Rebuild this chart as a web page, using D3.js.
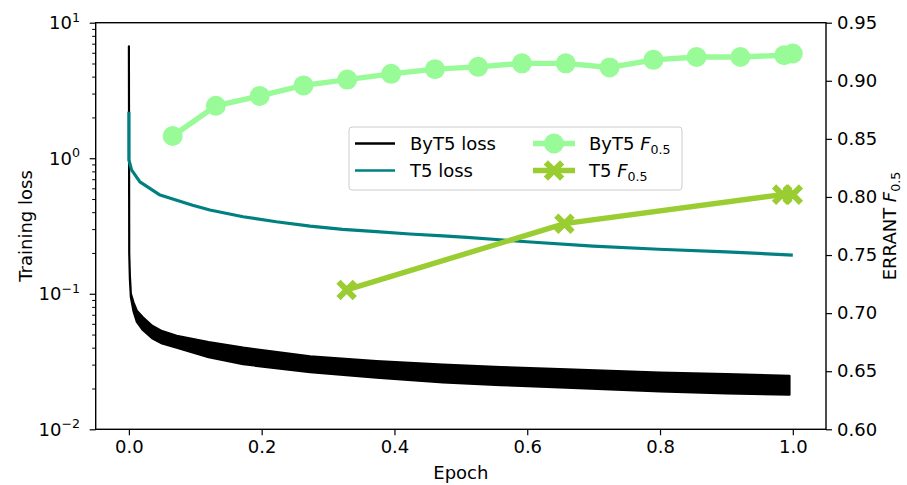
<!DOCTYPE html>
<html>
<head>
<meta charset="utf-8">
<script src="https://cdn.jsdelivr.net/npm/d3@7"></script>
<style>
body{margin:0;background:#fff;}
svg{font-family:"DejaVu Sans",sans-serif;}
</style>
</head>
<body>
<svg id="svg" width="907" height="485"></svg>
<script>
// ByT5 training loss, read as a noisy band (low / high edge)
var bytLossEpoch=[0,0.0005,0.0015,0.003,0.007,0.012,0.021,0.035,0.05,0.072,0.12,0.172,0.273,0.373,0.473,0.56,0.649,0.80,0.90,0.995];
var bytLossHi=[6.7,0.2,0.135,0.1,0.086,0.075,0.067,0.058,0.053,0.049,0.044,0.040,0.0345,0.0318,0.030,0.0288,0.0278,0.0262,0.0255,0.0248];
var bytLossLo=[6.7,0.2,0.128,0.094,0.074,0.062,0.054,0.047,0.043,0.040,0.034,0.0302,0.0264,0.024,0.0222,0.0212,0.0204,0.019,0.0184,0.018];

// T5 training loss
var t5LossEpoch=[0,0,0.004,0.0166,0.047,0.072,0.096,0.122,0.172,0.222,0.273,0.322,0.373,0.423,0.473,0.509,0.599,0.699,0.798,0.900,1.0];
var t5Loss=[2.2,0.97,0.82,0.67,0.535,0.49,0.45,0.415,0.37,0.34,0.316,0.299,0.287,0.276,0.267,0.261,0.242,0.225,0.213,0.204,0.193];

// ERRANT F0.5 checkpoints
var bytFEpoch=[0.066,0.131,0.197,0.263,0.329,0.395,0.461,0.526,0.592,0.658,0.724,0.790,0.855,0.921,0.987,1.0];
var bytF=[0.8525,0.8785,0.887,0.896,0.901,0.906,0.910,0.912,0.915,0.915,0.9115,0.918,0.9205,0.9205,0.922,0.9235];
var t5FEpoch=[0.328,0.656,0.984,1.0];
var t5F=[0.720,0.777,0.802,0.802];

var xTicks=[0,0.2,0.4,0.6,0.8,1.0];
var leftTicks=[0.01,0.1,1,10];
var leftTickExp=["\u22122","\u22121","0","1"];
var rightTicks=[0.60,0.65,0.70,0.75,0.80,0.85,0.90,0.95];

var svg=d3.select('#svg');
var box={left:95.7,right:826,top:22.7,bottom:429.3};
var fs=18;

var xScale=d3.scaleLinear().domain([-0.05,1.05]).range([box.left,box.right]);
var yLeft=d3.scaleLog().domain([0.01,10]).range([box.bottom,box.top]);
var yRight=d3.scaleLinear().domain([0.60,0.95]).range([box.bottom,box.top]);

var plot=svg.append("g");
plot.append("clipPath").attr("id","clip").append("rect")
    .attr("x",box.left).attr("y",box.top)
    .attr("width",box.right-box.left).attr("height",box.bottom-box.top);
var inner=plot.append("g").attr("clip-path","url(#clip)");

// ByT5 loss band
var bytRows=bytLossEpoch.map(function(e,i){return {x:e,lo:bytLossLo[i],hi:bytLossHi[i]};});
inner.append("path").datum(bytRows)
    .attr("d",d3.area().x(function(d){return xScale(d.x);})
        .y0(function(d){return yLeft(d.lo);})
        .y1(function(d){return yLeft(d.hi);}))
    .attr("fill","black").attr("stroke","black").attr("stroke-width",2.2)
    .attr("stroke-linejoin","round");

// T5 loss
var t5Rows=t5LossEpoch.map(function(e,i){return {x:e,y:t5Loss[i]};});
inner.append("path").datum(t5Rows)
    .attr("d",d3.line().x(function(d){return xScale(d.x);}).y(function(d){return yLeft(d.y);}))
    .attr("fill","none").attr("stroke","#008080").attr("stroke-width",3.2)
    .attr("stroke-linejoin","round");

// ByT5 F0.5
var bytFRows=bytFEpoch.map(function(e,i){return {x:e,y:bytF[i]};});
var lineR=d3.line().x(function(d){return xScale(d.x);}).y(function(d){return yRight(d.y);});
plot.append("path").datum(bytFRows).attr("d",lineR)
    .attr("fill","none").attr("stroke","#98fb98").attr("stroke-width",5.4);
plot.selectAll("circle.byt").data(bytFRows).enter().append("circle")
    .attr("class","byt")
    .attr("cx",function(d){return xScale(d.x);})
    .attr("cy",function(d){return yRight(d.y);})
    .attr("r",10).attr("fill","#98fb98");

// T5 F0.5
var t5FRows=t5FEpoch.map(function(e,i){return {x:e,y:t5F[i]};});
plot.append("path").datum(t5FRows).attr("d",lineR)
    .attr("fill","none").attr("stroke","#9acd32").attr("stroke-width",5.4);
var xSym=d3.symbol().type(d3.symbolX).size(175);
plot.selectAll("path.t5x").data(t5FRows).enter().append("path")
    .attr("class","t5x")
    .attr("transform",function(d){return "translate("+xScale(d.x)+","+yRight(d.y)+")";})
    .attr("d",xSym).attr("fill","none").attr("stroke","#9acd32").attr("stroke-width",6);

// frame
svg.append("rect").attr("x",box.left).attr("y",box.top)
    .attr("width",box.right-box.left).attr("height",box.bottom-box.top)
    .attr("fill","none").attr("stroke","black").attr("stroke-width",1.4);

// bottom axis
var xAxis=svg.append("g").attr("transform","translate(0,"+box.bottom+")")
    .call(d3.axisBottom(xScale).tickValues(xTicks).tickFormat(d3.format(".1f")).tickSize(6).tickPadding(5));
xAxis.select(".domain").remove();
xAxis.selectAll("text").attr("font-size",fs).attr("fill","black").attr("font-family","DejaVu Sans");
xAxis.selectAll("line").attr("stroke-width",1.2);

// left log axis
var minor=[];
[0.01,0.1,1].forEach(function(b){for(var k=2;k<10;k++){minor.push(b*k);}});
var lAxis=svg.append("g").attr("transform","translate("+box.left+",0)")
    .call(d3.axisLeft(yLeft).tickValues(minor).tickFormat("").tickSize(3.5));
lAxis.select(".domain").remove();
lAxis.selectAll("line").attr("stroke-width",1);
var lMajor=svg.append("g").attr("transform","translate("+box.left+",0)")
    .call(d3.axisLeft(yLeft).tickValues(leftTicks).tickFormat("").tickSize(6));
lMajor.select(".domain").remove();
lMajor.selectAll("line").attr("stroke-width",1.2);
leftTicks.forEach(function(v,i){
    var t=svg.append("text").attr("x",80).attr("y",yLeft(v)+6.5)
        .attr("text-anchor","end").attr("font-size",fs);
    t.append("tspan").text("10");
    t.append("tspan").attr("font-size",12.6).attr("dy",-7.5).text(leftTickExp[i]);
});

// right axis
var rAxis=svg.append("g").attr("transform","translate("+box.right+",0)")
    .call(d3.axisRight(yRight).tickValues(rightTicks).tickFormat(d3.format(".2f")).tickSize(6).tickPadding(5));
rAxis.select(".domain").remove();
rAxis.selectAll("text").attr("font-size",fs).attr("fill","black").attr("font-family","DejaVu Sans");
rAxis.selectAll("line").attr("stroke-width",1.2);

// axis labels
svg.append("text").attr("x",(box.left+box.right)/2).attr("y",479)
    .attr("text-anchor","middle").attr("font-size",fs).text("Epoch");
svg.append("text").attr("transform","translate(32,"+((box.top+box.bottom)/2)+") rotate(-90)")
    .attr("text-anchor","middle").attr("font-size",fs).text("Training loss");
var rl=svg.append("text").attr("transform","translate(896,"+((box.top+box.bottom)/2)+") rotate(-90)")
    .attr("text-anchor","middle").attr("font-size",fs);
rl.append("tspan").text("ERRANT ");
rl.append("tspan").attr("font-style","italic").text("F");
rl.append("tspan").attr("font-size",12.6).attr("dy",4).text("0.5");

// legend
var lg=svg.append("g");
lg.append("rect").attr("x",349).attr("y",127).attr("width",333).attr("height",63)
    .attr("rx",3).attr("fill","white").attr("fill-opacity",0.8)
    .attr("stroke","#cccccc").attr("stroke-width",1);
var legendLeft=[{label:"ByT5 loss",color:"black"},{label:"T5 loss",color:"#008080"}];
legendLeft.forEach(function(d,i){
    var y=143.5+i*27;
    lg.append("line").attr("x1",355).attr("x2",395).attr("y1",y).attr("y2",y)
        .attr("stroke",d.color).attr("stroke-width",2.7);
    lg.append("text").attr("x",410).attr("y",y+6.5).attr("font-size",fs).text(d.label);
});
var legendRight=[{label:"ByT5 ",color:"#98fb98",mark:"circle"},{label:"T5 ",color:"#9acd32",mark:"x"}];
legendRight.forEach(function(d,i){
    var y=143.5+i*27;
    lg.append("line").attr("x1",533).attr("x2",575).attr("y1",y).attr("y2",y)
        .attr("stroke",d.color).attr("stroke-width",5.4);
    if(d.mark=="circle"){
        lg.append("circle").attr("cx",554).attr("cy",y).attr("r",10).attr("fill",d.color);
    }else{
        lg.append("path").attr("transform","translate(554,"+y+")").attr("d",xSym)
            .attr("fill","none").attr("stroke",d.color).attr("stroke-width",6);
    }
    var t=lg.append("text").attr("x",589).attr("y",y+6.5).attr("font-size",fs);
    t.append("tspan").text(d.label);
    t.append("tspan").attr("font-style","italic").text("F");
    t.append("tspan").attr("font-size",12.6).attr("dy",4).text("0.5");
});
</script>
</body>
</html>
